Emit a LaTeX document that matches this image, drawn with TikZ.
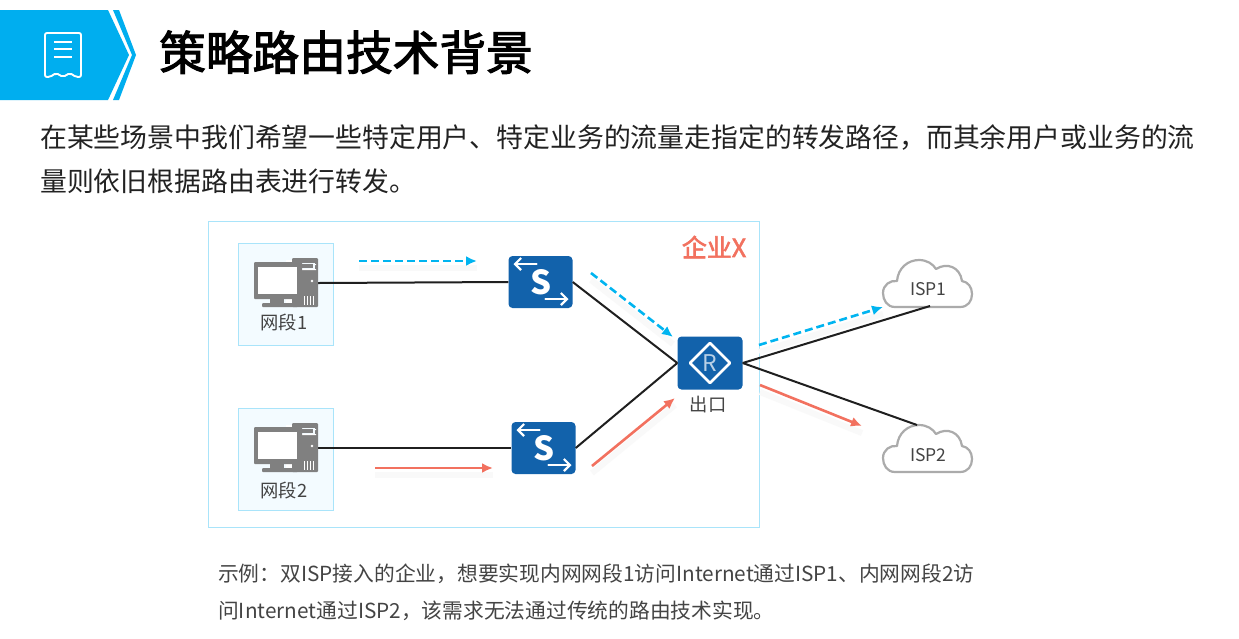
\documentclass[tikz,border=0pt]{standalone}
\usepackage{fontspec}
\setmainfont{Noto Sans CJK SC}
\newfontfamily\heavyfont[FakeBold=2.4]{Noto Sans CJK SC}
\usetikzlibrary{arrows.meta}
\definecolor{hdr}{HTML}{00AEEF}
\definecolor{dev}{HTML}{1262AB}
\definecolor{flowb}{HTML}{00B4F0}
\definecolor{flowr}{HTML}{F2715F}
\definecolor{frm}{HTML}{A9E4FA}
\definecolor{pcfill}{HTML}{F3FBFF}
\definecolor{icong}{HTML}{808080}
\definecolor{cloudg}{HTML}{ABABAB}
\definecolor{txt}{HTML}{222222}
\definecolor{lab}{HTML}{444444}
\newcommand{\fs}[1]{\fontsize{#1}{#1}\selectfont}
\tikzset{
  bodytext/.style={anchor=base west,inner sep=0pt,text=txt,font=\fs{26.85}},
  captext/.style={anchor=base west,inner sep=0pt,text=lab,font=\fs{20.75}},
  lbl/.style={inner sep=0pt,text=lab,font=\fs{18.3}},
  shade/.style={preaction={draw=black!2.5,line width=6pt,solid,transform canvas={yshift=-7pt},-}},
  link/.style={draw=black!88,line width=2pt},
  flowblue/.style={shade,draw=flowb,line width=2.6pt,dash pattern=on 8pt off 4pt,-{Latex[length=11pt,width=10pt]}},
  flowred/.style={shade,draw=flowr,line width=2.6pt,-{Latex[length=11pt,width=10pt]}},
  devbox/.style={fill=dev,rounded corners=4pt,minimum width=#1,minimum height=52pt,inner sep=0pt},
  pcbox/.style={draw=frm,fill=pcfill,line width=1pt},
  whiteln/.style={draw=white,line width=2.2pt,line cap=round,line join=round}
}
\newcommand{\pcicon}[2]{%
  \begin{scope}[shift={(#1,#2)}]
    \fill[icong,rounded corners=1pt] (38,0) rectangle (64,49);
    \fill[white] (47,6) rectangle (62,7) (47,11) rectangle (62,12);
    \fill[pcfill] (41,5) rectangle (61,11);
    \fill[icong] (43,6) rectangle (59,10);
    \fill[white] (58,23) circle (1.3);
    \foreach \q in {50,53,56,59} \fill[white] (\q,38) rectangle (\q+1.2,47);
    \fill[white] (32,2) rectangle (38,49);
    \fill[icong,rounded corners=1pt] (0,4) rectangle (48,41);
    \fill[white] (4,9) rectangle (43,36);
    \fill[icong] (16,41) rectangle (30,45);
    \fill[icong,rounded corners=1pt] (8,45) rectangle (44,49);
  \end{scope}}
\newcommand{\cloudicon}[2]{%
  \begin{scope}[shift={(#1,#2)}]
    \draw[cloudg,line width=2.2pt,fill=white,line join=round]
      (12,0) .. controls (4,0) and (0,-7) .. (0,-14)
      .. controls (0,-22) and (7,-27) .. (14,-26)
      .. controls (15,-39) and (25,-47) .. (36,-47)
      .. controls (44,-47) and (50,-43) .. (53,-38)
      .. controls (64,-45) and (77,-40) .. (79,-26)
      .. controls (85,-25) and (89,-20) .. (89,-13)
      .. controls (89,-6) and (85,0) .. (77,0) -- cycle;
  \end{scope}}
\newcommand{\swicon}[2]{%
  \begin{scope}[shift={(#1,#2)}]
    \node[text=white,inner sep=0pt,font=\bfseries\fs{33}] (#1sw) at (0.5,0) {S};
    \draw[whiteln,-{Straight Barb[length=6pt,width=12pt]}] (-4,-18) -- (-27,-18);
    \draw[whiteln,-{Straight Barb[length=6pt,width=12pt]}] (5,17) -- (28,17);
  \end{scope}}
\begin{document}
\begin{tikzpicture}[x=1pt,y=-1pt]
\useasboundingbox (0,0) rectangle (1239,638);
\fill[white] (0,0) rectangle (1239,638);
% header
\fill[hdr] (0,10) -- (108,10) -- (129,55) -- (108,100) -- (0,100) -- cycle;
\fill[hdr] (113,10) -- (119,10) -- (136,55) -- (119,100) -- (113,100) -- (132,55) -- cycle;
\draw[white,line width=1.9pt,line join=round,rounded corners=2pt]
  (45,33) -- (81,33) -- (81,77) -- (76,77) -- (70,73) -- (63,77) -- (56,73) -- (50,77) -- (45,77) -- cycle;
\draw[white,line width=1.9pt] (54,42) -- (72,42) (54,49) -- (72,49) (54,57) -- (72,57);
\node[anchor=base west,inner sep=0pt,text=black,font=\heavyfont\fs{46.7}] (title) at (159,70) {策略路由技术背景};
\node[bodytext] (l1) at (40,147) {在某些场景中我们希望一些特定用户、特定业务的流量走指定的转发路径，而其余用户或业务的流};
\node[bodytext] (l2) at (40,191) {量则依旧根据路由表进行转发。};
% enterprise
\draw[draw=frm,fill=white,line width=1pt] (208,221) rectangle (759,527);
\node[inner sep=0pt,text=flowr,font=\heavyfont\fs{25}] (ent) at (714,247) {企业X};
\node[pcbox,minimum width=95pt,minimum height=102pt,inner sep=0pt] (net1) at (285.5,294) {};
\node[pcbox,minimum width=95pt,minimum height=102pt,inner sep=0pt] (net2) at (285.5,459) {};
\coordinate (pc1) at (318,283);
\coordinate (pc2) at (318,448);
\coordinate (ispa) at (930,306);
\coordinate (ispb) at (917,425);
% devices
\node[devbox=64pt] (s1) at (540.5,282) {};
\node[devbox=64pt] (s2) at (543.5,448) {};
\node[devbox=65pt,minimum height=53pt] (r) at (710,363) {};
% links
\draw[link] (pc1) -- (s1.west);
\draw[link] (pc2) -- (s2.west);
\draw[link] (s1.east) -- (r.west);
\draw[link] (s2.east) -- (r.west);
\cloudicon{883}{307}
\cloudicon{883}{472}
\draw[link] (r.east) -- (ispa);
\draw[link] (r.east) -- (ispb);
% icons
\pcicon{254}{258}
\pcicon{254}{423}
\node[lbl] (t1) at (284,323) {网段1};
\node[lbl] (t2) at (284,491) {网段2};
\swicon{540.5}{282}
\swicon{543.5}{448}
\draw[white,line width=2.6pt,line join=round] (r.center) ++(0,-20) -- ++(20,20) -- ++(-20,20) -- ++(-20,-20) -- cycle;
\node[inner sep=0pt,text=white!70!dev,font=\fs{23}] (rl) at (710,363) {R};
\node[lbl] (t3) at (708,405) {出口};
\node[lbl,font=\fs{17.5}] (i1) at (928.5,289) {ISP1};
\node[lbl,font=\fs{17.5}] (i2) at (928.5,455) {ISP2};
% flows
\coordinate (fa1) at (359,261); \coordinate (fa2) at (477,261);
\coordinate (fb1) at (591,273); \coordinate (fb2) at (673,337);
\coordinate (fc1) at (759,345); \coordinate (fc2) at (883,307);
\coordinate (fd1) at (375,468); \coordinate (fd2) at (493,468);
\coordinate (fe1) at (592,466); \coordinate (fe2) at (675,398);
\coordinate (ff1) at (760,385); \coordinate (ff2) at (862,426);
\draw[flowblue] (fa1) -- (fa2);
\draw[flowblue] (fb1) -- (fb2);
\draw[flowblue] (fc1) -- (fc2);
\draw[flowred] (fd1) -- (fd2);
\draw[flowred] (fe1) -- (fe2);
\draw[flowred] (ff1) -- (ff2);
% caption
\node[captext] (c1) at (218,581) {示例：双ISP接入的企业，想要实现内网网段1访问Internet通过ISP1、内网网段2访};
\node[captext] (c2) at (218,618) {问Internet通过ISP2，该需求无法通过传统的路由技术实现。};
\end{tikzpicture}
\end{document}
